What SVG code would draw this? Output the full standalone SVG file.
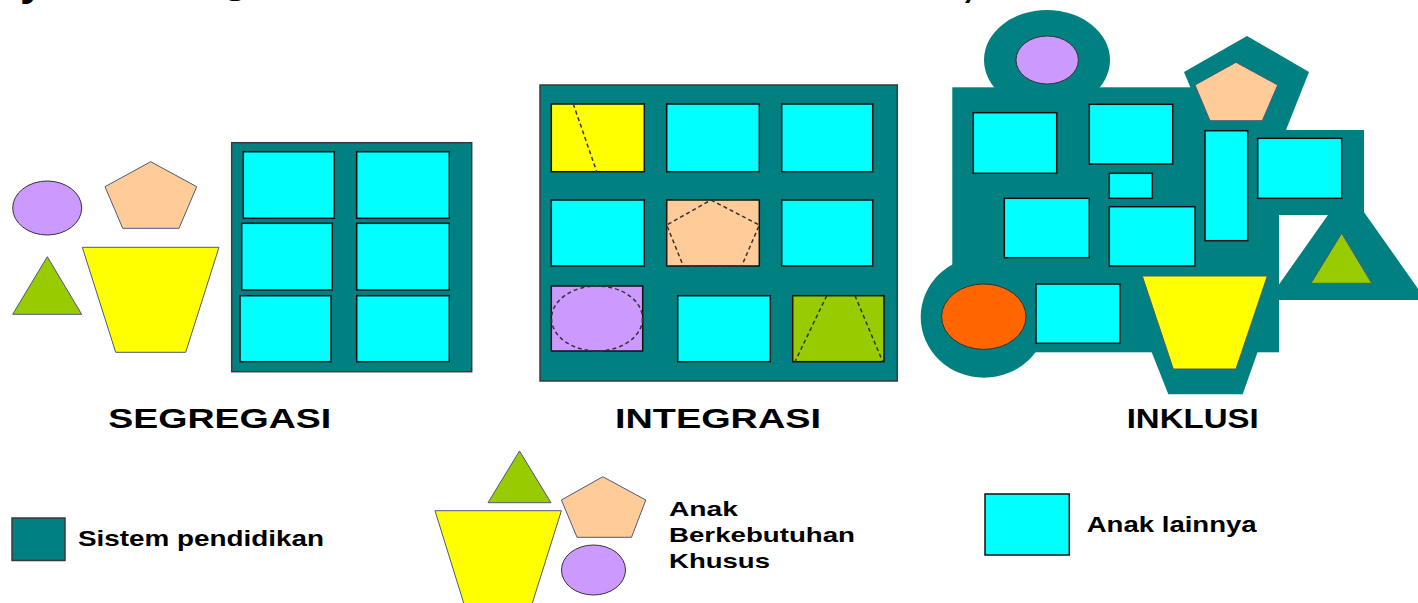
<svg xmlns="http://www.w3.org/2000/svg" width="1418" height="603" viewBox="0 0 1418 603">
<style>
.teal{fill:#008080}
.box{fill:#008080;stroke:#3a3a3a;stroke-width:1.5}
.cy{fill:#00FFFF;stroke:#111;stroke-width:1.5}
.pur{fill:#CC99FF;stroke:#333;stroke-width:1}
.pea{fill:#FFCC99;stroke:#4a5a7a;stroke-width:1}
.grn{fill:#99CC00;stroke:#4a5a7a;stroke-width:1}
.yel{fill:#FFFF00;stroke:#4a5a7a;stroke-width:1}
.org{fill:#FF6600;stroke:#333;stroke-width:1}
.dash{fill:none;stroke:#333;stroke-width:1.5;stroke-dasharray:4 3}
.lbl{font-family:"Liberation Sans",Arial,sans-serif;font-weight:bold;fill:#000}
</style>
<rect width="1418" height="603" fill="#fff"/>

<g id="title-clipped" class="lbl" font-size="44">
<text x="20" y="-5">y</text>
<text x="222" y="-8">g</text>
<text x="962" y="-4">,</text>
</g>

<g id="segregasi">
<ellipse class="pur" cx="47.2" cy="208" rx="34.5" ry="27"/>
<polygon class="pea" points="150.7,161.7 196.7,186.7 179,228.3 122.7,228.3 105,186.7"/>
<polygon class="grn" points="47.3,256.7 81.7,314.3 12.7,314.3"/>
<polygon class="yel" points="82.3,247.3 219,247.3 185.7,352.3 115.7,352.3"/>
<rect class="box" x="231.7" y="142.7" width="240" height="229"/>
<rect class="cy" x="243.3" y="151.7" width="91" height="66.6"/>
<rect class="cy" x="356.7" y="151.7" width="92.6" height="66.6"/>
<rect class="cy" x="241.7" y="223.3" width="90.6" height="66.7"/>
<rect class="cy" x="356.7" y="223.3" width="92.6" height="66.7"/>
<rect class="cy" x="240" y="295.7" width="91" height="66"/>
<rect class="cy" x="356.7" y="295.7" width="92.6" height="66"/>
<text class="lbl" x="108.3" y="428.3" font-size="28" textLength="223" lengthAdjust="spacingAndGlyphs">SEGREGASI</text>
</g>

<g id="integrasi">
<rect class="box" x="540" y="85" width="357.3" height="296"/>
<rect x="551.3" y="104" width="93" height="67.7" fill="#FFFF00" stroke="#111" stroke-width="1.5"/>
<line class="dash" x1="573.3" y1="104" x2="596.7" y2="171.7"/>
<rect class="cy" x="666.7" y="104" width="92.6" height="67.7"/>
<rect class="cy" x="781.7" y="104" width="91" height="67.7"/>
<rect class="cy" x="551.3" y="200" width="93" height="66"/>
<rect x="666.7" y="200" width="92.6" height="66" fill="#FFCC99" stroke="#111" stroke-width="1.5"/>
<polygon class="dash" points="711,200 759.3,225 741.7,266 683.3,266 666.7,225"/>
<rect class="cy" x="781.7" y="200" width="91" height="66"/>
<rect x="551.3" y="286" width="91.4" height="65" fill="#CC99FF" stroke="#111" stroke-width="1.5"/>
<ellipse class="dash" cx="597" cy="318.5" rx="45.5" ry="32.5"/>
<rect class="cy" x="677.7" y="295.7" width="92.6" height="66"/>
<rect x="792.7" y="295.7" width="91.3" height="66" fill="#99CC00" stroke="#111" stroke-width="1.5"/>
<line class="dash" x1="826.7" y1="295.7" x2="795" y2="361.7"/>
<line class="dash" x1="855" y1="295.7" x2="882.7" y2="361.7"/>
<text class="lbl" x="615" y="428.3" font-size="28" textLength="206" lengthAdjust="spacingAndGlyphs">INTEGRASI</text>
</g>

<g id="inklusi">
<g class="teal">
<rect x="952.3" y="87.3" width="326.7" height="265"/>
<rect x="1270" y="130" width="94" height="85"/>
<ellipse cx="1047" cy="60" rx="63" ry="50"/>
<polygon points="1247,36 1309,72 1286,130 1208,130 1184,72"/>
<polygon points="1347,188 1268,300 1426,300"/>
<ellipse cx="984" cy="317" rx="63.3" ry="60.7"/>
<polygon points="1131,300 1276,300 1242.7,394.3 1168.3,394.3"/>
</g>
<ellipse class="pur" cx="1047.2" cy="60" rx="31.2" ry="24"/>
<polygon class="pea" points="1236,62.3 1277.7,85 1262.3,120.7 1210,120.7 1195,85"/>
<polygon class="grn" points="1341.7,233.3 1371.7,283.3 1311,283.3"/>
<ellipse class="org" cx="983.8" cy="316.7" rx="42.2" ry="32.7"/>
<polygon class="yel" points="1142.3,276 1267.3,276 1236,369 1173.3,369"/>
<rect class="cy" x="973.3" y="112.7" width="83.4" height="60.6"/>
<rect class="cy" x="1089.3" y="104.3" width="83.4" height="59.7"/>
<rect class="cy" x="1109.3" y="173.3" width="43" height="25"/>
<rect class="cy" x="1205" y="130.7" width="42.7" height="110"/>
<rect class="cy" x="1257.7" y="138.3" width="84" height="60"/>
<rect class="cy" x="1004.3" y="198.3" width="85" height="59.4"/>
<rect class="cy" x="1109.3" y="206.7" width="85.7" height="59.3"/>
<rect class="cy" x="1036" y="284" width="84" height="59.3"/>
<text class="lbl" x="1126.7" y="428.3" font-size="28" textLength="132" lengthAdjust="spacingAndGlyphs">INKLUSI</text>
</g>

<g id="legend-sistem">
<rect class="box" x="12" y="518" width="53" height="42.5"/>
<text class="lbl" x="78" y="546" font-size="22" textLength="246" lengthAdjust="spacingAndGlyphs">Sistem pendidikan</text>
</g>

<g id="legend-abk">
<polygon class="grn" points="519.5,451 551,502.7 488,502.7"/>
<polygon class="yel" points="435,510.7 561.4,510.7 527,620 469,620"/>
<polygon class="pea" points="602.8,476.7 645.8,500 631.5,537.3 577,537.3 561.4,500"/>
<ellipse class="pur" cx="593.5" cy="570" rx="32" ry="25"/>
<text class="lbl" x="669" y="516" font-size="21" textLength="69" lengthAdjust="spacingAndGlyphs">Anak</text>
<text class="lbl" x="669" y="541.7" font-size="21" textLength="186" lengthAdjust="spacingAndGlyphs">Berkebutuhan</text>
<text class="lbl" x="669" y="568.3" font-size="21" textLength="101" lengthAdjust="spacingAndGlyphs">Khusus</text>
</g>

<g id="legend-lainnya">
<rect class="cy" x="985" y="494" width="84.3" height="61" stroke="#333"/>
<text class="lbl" x="1086.7" y="531.7" font-size="22" textLength="170" lengthAdjust="spacingAndGlyphs">Anak lainnya</text>
</g>

<g id="connectors"/>
</svg>
